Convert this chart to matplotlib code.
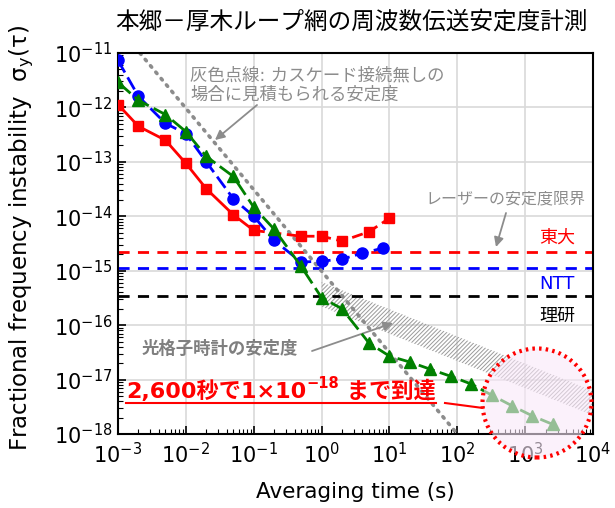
import numpy as np
import matplotlib
matplotlib.use('Agg')
import matplotlib.pyplot as plt
from matplotlib.patches import Circle
from matplotlib.lines import Line2D

plt.rcParams['font.family'] = ['DejaVu Sans', 'Noto Sans CJK JP']
plt.rcParams['hatch.linewidth'] = 0.7
plt.rcParams['hatch.color'] = '#9a9a9a'

# データ
tau_ut = [1e-3, 2e-3, 5e-3, 1e-2, 2e-2, 5e-2, 0.1, 0.5, 1, 2, 5, 10]
sig_ut = [1.13e-12, 4.5e-13, 2.5e-13, 9.4e-14, 3.2e-14, 1.07e-14, 5.5e-15,
          4.3e-15, 4.3e-15, 3.5e-15, 5.2e-15, 9.2e-15]

tau_ntt = [1e-3, 2e-3, 5e-3, 1e-2, 2e-2, 5e-2, 0.1, 0.2, 0.5, 1, 2, 4, 8]
sig_ntt = [7.3e-12, 1.6e-12, 5.1e-13, 3.3e-13, 1.0e-13, 2.1e-14, 1.0e-14,
           3.6e-15, 1.44e-15, 1.5e-15, 1.63e-15, 2.1e-15, 2.6e-15]

tau_loop = [1e-3, 2e-3, 5e-3, 1e-2, 2e-2, 5e-2, 0.1, 0.2, 0.5, 1, 2, 5, 10,
            20, 40, 80, 160, 320, 640, 1280, 2560]
sig_loop = [2.9e-12, 1.35e-12, 7.4e-13, 3.6e-13, 1.26e-13, 5.4e-14, 1.47e-14,
            5.8e-15, 1.2e-15, 3.2e-16, 2.0e-16, 4.7e-17, 2.7e-17, 2.1e-17,
            1.55e-17, 1.15e-17, 8.3e-18, 5.2e-18, 3.3e-18, 2.15e-18, 1.5e-18]

# レーザーの安定度限界
laser_names = ['東大', 'NTT', '理研']
laser_levels = [2.2e-15, 1.1e-15, 3.4e-16]
laser_colors = ['red', 'blue', 'black']

# カスケード無しの見積もり (灰色点線)
tau_nocascade = [2.1e-3, 100]
sig_nocascade = [1e-11, 1e-18]

# 光格子時計の安定度 (帯)
tau_clock = [1, 1e4]
sig_clock_hi = [6.2e-16, 6.2e-18]
sig_clock_lo = [2.2e-16, 2.2e-18]

W, H = 615, 508
fig = plt.figure(figsize=(W / 100, H / 100), dpi=100)
ax = fig.add_axes([118 / W, 1 - 434 / H, (593 - 118) / W, (434 - 53) / H])
ax.set_xscale('log')
ax.set_yscale('log')
ax.set_xlim(1e-3, 1e4)
ax.set_ylim(1e-18, 1e-11)

ax.grid(True, which='major', color='#d9d9d9', lw=1.2)
ax.set_axisbelow(True)
ax.tick_params(which='both', direction='in', labelsize=15)
ax.tick_params(axis='x', pad=6)
ax.tick_params(axis='y', pad=4)
ax.tick_params(which='major', length=6, width=1.2)
ax.tick_params(which='minor', length=3.5, width=0.8)
ax.xaxis.set_major_locator(matplotlib.ticker.LogLocator(base=10, numticks=20))
ax.yaxis.set_major_locator(matplotlib.ticker.LogLocator(base=10, numticks=20))
ax.xaxis.set_minor_locator(matplotlib.ticker.LogLocator(base=10, subs=np.arange(2, 10), numticks=100))
ax.yaxis.set_minor_locator(matplotlib.ticker.LogLocator(base=10, subs=np.arange(2, 10), numticks=100))
ax.yaxis.set_minor_formatter(matplotlib.ticker.NullFormatter())
ax.xaxis.set_minor_formatter(matplotlib.ticker.NullFormatter())
for s in ax.spines.values():
    s.set_linewidth(1.5)

# 光格子時計の帯
ax.fill_between(tau_clock, sig_clock_lo, sig_clock_hi, facecolor='none',
                edgecolor='#9a9a9a', hatch='////////', lw=0, zorder=1)

# レーザー限界
for lev, c in zip(laser_levels, laser_colors):
    ax.axhline(lev, color=c, lw=2, ls=(0, (4, 3)), zorder=2)

# 灰色点線
ax.plot(tau_nocascade, sig_nocascade, color='#8c8c8c', lw=2.6,
        ls=(0, (0.5, 1.8)), dash_capstyle='round', zorder=2)

# 東大 (赤)
n_solid = tau_ut.index(0.1) + 1
ax.plot(tau_ut[:n_solid], sig_ut[:n_solid], color='red', lw=2, zorder=3)
ax.plot(tau_ut[n_solid - 1:], sig_ut[n_solid - 1:], color='red', lw=2,
        ls=(0, (4, 2)), zorder=3)
ax.plot(tau_ut, sig_ut, ls='none', marker='s', ms=7.5, color='red', zorder=4)

# NTT (青)
ax.plot(tau_ntt, sig_ntt, color='blue', lw=2, ls=(0, (5, 2)),
        marker='o', ms=8, zorder=4)

# ループ (緑)
ax.plot(tau_loop, sig_loop, color='green', lw=2, ls=(0, (6, 2)),
        marker='^', ms=9, zorder=5)

# ラベル
fig.text(352 / W, 1 - 22 / H, '本郷－厚木ループ網の周波数伝送安定度計測',
         ha='center', va='center', fontsize=17, family=['Noto Sans CJK JP'])
fig.text(355 / W, 1 - 492 / H, 'Averaging time (s)', ha='center', va='center',
         fontsize=15.5)
fig.text(22 / W, 1 - 238 / H, r'Fractional frequency instability  $\mathregular{\sigma_y(\tau)}$',
         ha='center', va='center', rotation=90, fontsize=16.5)

gray = '#8c8c8c'
fig.text(190 / W, 1 - 85 / H, '灰色点線: カスケード接続無しの\n場合に見積もられる安定度',
         ha='left', va='center', fontsize=12.5, color=gray, linespacing=1.1)
fig.text(425 / W, 1 - 199 / H, 'レーザーの安定度限界', ha='left', va='center',
         fontsize=11.5, color=gray)
for name, c, y in zip(laser_names, laser_colors, [238, 284, 316]):
    fig.text(575 / W, 1 - y / H, name, ha='right', va='center', fontsize=13, color=c)
fig.text(142 / W, 1 - 349 / H, '光格子時計の安定度', ha='left', va='center',
         fontsize=12.5, color='#7f7f7f', fontweight='bold')

def arrow(tail, head):
    ax.annotate('', xy=(head[0], H - head[1]), xycoords='figure pixels',
                xytext=(tail[0], H - tail[1]), textcoords='figure pixels',
                arrowprops=dict(arrowstyle='-|>', color='#8c8c8c', lw=1.3,
                                mutation_scale=14, shrinkA=0, shrinkB=0))

arrow((257, 105), (215, 140))
arrow((506, 213), (496, 247))
arrow((312, 351), (393, 323))

# 赤い注記 (部分ごとに配置)
renderer = fig.canvas.get_renderer()
x0, yc = 126, 391
parts = [('2,600秒で1×10', 16, 0), ('−18', 10.5, 7), (' まで到達', 16, 0)]
x = x0
for txt, fs, dy in parts:
    t = fig.text(x / W, (H - yc + dy) / H, txt, ha='left', va='center',
                 fontsize=fs, color='red', fontweight='bold')
    bb = t.get_window_extent(renderer)
    x += bb.width
fig.add_artist(Line2D([x0 / W, x / W], [1 - 403 / H, 1 - 403 / H],
                      color='red', lw=1.5, transform=fig.transFigure))
fig.add_artist(Line2D([445 / W, 483 / W], [1 - 403 / H, 1 - 408 / H],
                      color='red', lw=1.5, transform=fig.transFigure))

# 丸
circ = Circle((537 / 100, (H - 403) / 100), 0.545, transform=fig.dpi_scale_trans,
              facecolor='#f9e8f9', alpha=0.6, edgecolor='none', zorder=10)
fig.add_artist(circ)
circ2 = Circle((537 / 100, (H - 403) / 100), 0.545, transform=fig.dpi_scale_trans,
               facecolor='none', edgecolor='red', lw=3, ls=(0, (0.6, 1.0)), zorder=11)
fig.add_artist(circ2)

fig.savefig('out.png', dpi=100)
